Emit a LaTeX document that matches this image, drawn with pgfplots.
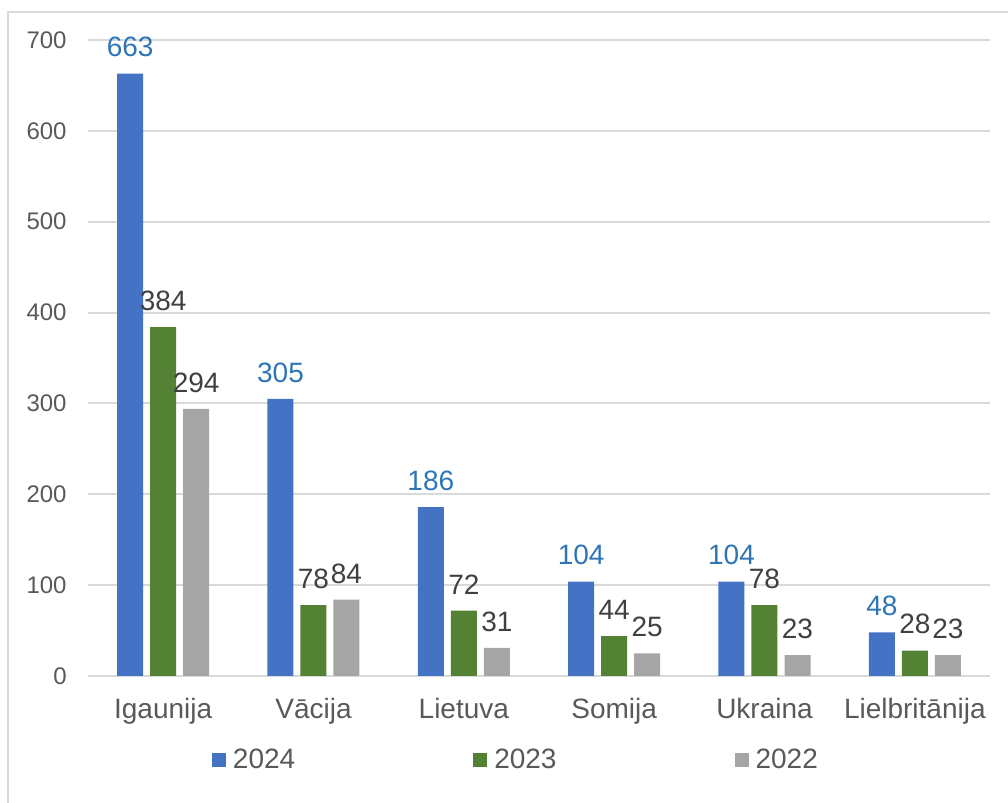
\documentclass[border=0pt]{standalone}
\usepackage{fontspec}
\setmainfont{Liberation Sans}
\usepackage{pgfplots}
\pgfplotsset{compat=1.18}
\definecolor{c24}{HTML}{4472C4}
\definecolor{c23}{HTML}{548235}
\definecolor{c22}{HTML}{A5A5A5}
\definecolor{lbl24}{HTML}{2E75B6}
\definecolor{lbl}{HTML}{404040}
\definecolor{txt}{HTML}{595959}
\definecolor{gridc}{HTML}{D9D9D9}

\begin{document}
\begin{tikzpicture}
\useasboundingbox (-44pt,-63.5pt) rectangle (460pt,338pt);
\draw[gridc, line width=1.2pt] (-40pt,-70pt) -- (-40pt,332pt) -- (470pt,332pt);
\begin{axis}[
  scale only axis, width=451pt, height=318pt,
  ybar=3.5pt, bar width=13pt,
  xmin=-0.5, xmax=5.5, ymin=0, ymax=700,
  xtick={0,1,2,3,4,5},
  xticklabels={Igaunija,Vācija,Lietuva,Somija,Ukraina,Lielbritānija},
  ytick={0,100,200,300,400,500,600,700},
  /pgf/number format/assume math mode=true,
  axis line style={draw=none}, major tick length=0pt,
  ymajorgrids, grid style={gridc, line width=1pt},
  xticklabel style={font=\fontsize{14}{16}\selectfont, text=txt, anchor=base, inner sep=0pt, yshift=-21.5pt},
  yticklabel style={font=\fontsize{12}{14}\selectfont, text=txt, anchor=east, inner sep=0pt, xshift=-10.5pt},
  nodes near coords,
  nodes near coords style={font=\fontsize{14}{16}\selectfont, inner sep=0pt, anchor=south, yshift=8pt},
  clip=false,
  legend columns=3,
  legend image code/.code={\fill[#1, draw=none] (0pt,-3.5pt) rectangle (7pt,3.5pt);},
  legend style={draw=none, at={(0,0)}, anchor=west, xshift=62pt, yshift=-42pt,
    inner sep=0pt, outer sep=0pt,
    font=\fontsize{14}{16}\selectfont, text=txt,
    nodes={inner sep=0pt},
    /tikz/every odd column/.append style={column sep=3.5pt},
    /tikz/every even column/.append style={column sep=89pt}},
]
\addplot[fill=c24, draw=none, every node near coord/.append style={text=lbl24}]
  coordinates {(0,663) (1,305) (2,186) (3,104) (4,104) (5,48)};
\addplot[fill=c23, draw=none, every node near coord/.append style={text=lbl}]
  coordinates {(0,384) (1,78) (2,72) (3,44) (4,78) (5,28)};
\addplot[fill=c22, draw=none, every node near coord/.append style={text=lbl}]
  coordinates {(0,294) (1,84) (2,31) (3,25) (4,23) (5,23)};
\legend{2024,2023,2022}
\end{axis}
\end{tikzpicture}
\end{document}
